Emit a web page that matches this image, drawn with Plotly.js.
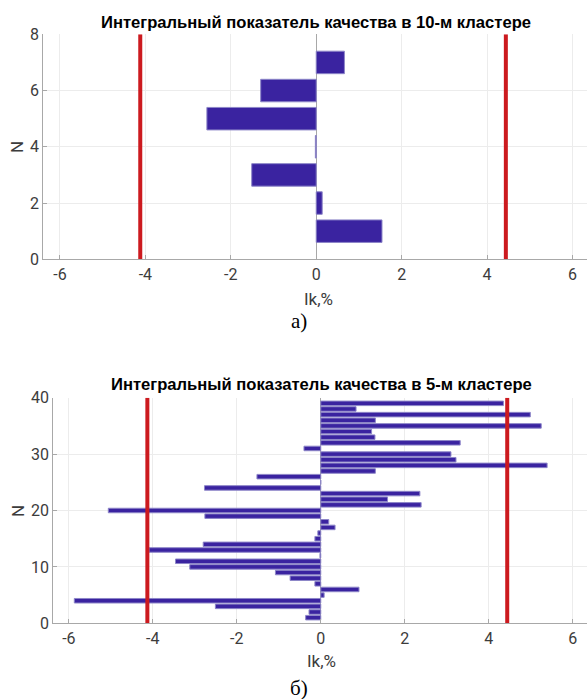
<!DOCTYPE html>
<html><head><meta charset="utf-8">
<script src="https://cdn.plot.ly/plotly-3.0.1.min.js"></script>
<style>html,body{margin:0;padding:0;background:#fff}#chart{width:587px;height:699px}</style>
</head><body><div id="chart"></div>
<script>
// ---- data: cluster 10 ----
const n10 = [1, 2, 3, 4, 5, 6, 7];
const ik10 = [1.54, 0.14, -1.51, -0.02, -2.56, -1.30, 0.66];
const lim10 = [-4.12, 4.44];
const title10 = 'Интегральный показатель качества в 10-м кластере';
// ---- data: cluster 5 ----
const n5 = [1,2,3,4,5,6,7,8,9,10,11,12,13,14,15,16,17,18,19,20,21,22,23,24,25,26,27,28,29,30,31,32,33,34,35,36,37,38,39];
const ik5 = [-0.36, -0.28, -2.51, -5.87, 0.08, 0.91, -0.14, -0.73, -1.08, -3.12,
             -3.46, -0.02, -4.09, -2.80, -0.14, -0.07, 0.34, 0.19, -2.76, -5.06,
             2.39, 1.59, 2.36, -2.77, 0.00, -1.52, 1.30, 5.39, 3.22, 3.10,
             -0.40, 3.32, 1.29, 1.21, 5.25, 1.30, 4.99, 0.84, 4.35];
const lim5 = [-4.13, 4.44];
const title5 = 'Интегральный показатель качества в 5-м кластере';
const xTitle = 'Ik,%';
const yTitle = 'N';
const xTicks = [-6, -4, -2, 0, 2, 4, 6];
const yTicks10 = [0, 2, 4, 6, 8];
const yTicks5 = [0, 10, 20, 30, 40];
const cap10 = 'а)';
const cap5 = 'б)';

const W = 587, H = 699;
const barColor = '#3a23a0', barEdge = '#8d86c8', redColor = '#cc1a1f';

function bars(x, y, xa, ya) {
  return {type: 'bar', orientation: 'h', x: x, y: y, xaxis: xa, yaxis: ya, width: 0.8,
    marker: {color: barColor, line: {color: barEdge, width: 1}}, hoverinfo: 'x+y', showlegend: false};
}
function limLines(lims, ymax, xa, ya) {
  return lims.map(v => ({type: 'scatter', mode: 'lines', x: [v, v], y: [0, ymax], xaxis: xa, yaxis: ya,
    line: {color: redColor, width: 4}, showlegend: false, hoverinfo: 'x'}));
}

const data = [
  bars(ik10, n10, 'x', 'y'),
  ...limLines(lim10, 8, 'x', 'y'),
  bars(ik5, n5, 'x2', 'y2'),
  ...limLines(lim5, 40, 'x2', 'y2')
];

const tickFont = {family: 'Roboto, Liberation Sans, Arial, sans-serif', size: 16, color: '#3c3c3c'};
function xax(domain, range, anchor) {
  return {domain: domain, range: range, anchor: anchor, tickvals: xTicks, ticktext: xTicks.map(String),
    showgrid: true, gridcolor: '#ececec', zeroline: true, zerolinecolor: '#a8a8a8', zerolinewidth: 1,
    showline: true, linecolor: '#a8a8a8', linewidth: 1, ticks: 'inside', ticklen: 4, tickcolor: '#a8a8a8',
    tickfont: tickFont, fixedrange: true};
}
function yax(domain, range, ticks, anchor) {
  return {domain: domain, range: range, anchor: anchor, tickvals: ticks, ticktext: ticks.map(String),
    showgrid: true, gridcolor: '#ececec', zeroline: false,
    showline: true, linecolor: '#a8a8a8', linewidth: 1, ticks: 'inside', ticklen: 4, tickcolor: '#a8a8a8',
    tickfont: tickFont, fixedrange: true};
}

const px = v => v / W, py = v => 1 - v / H;
const titleFont = {family: 'Liberation Sans, Arial, sans-serif', size: 16.6, color: '#000', weight: 'bold'};
const labFont = {family: 'Roboto, Liberation Sans, Arial, sans-serif', size: 17, color: '#3c3c3c'};
const capFont = {family: 'Liberation Serif, Times New Roman, serif', size: 21, color: '#000'};

function ann(text, x, y, font, extra) {
  return Object.assign({text: text, x: px(x), y: py(y), xref: 'paper', yref: 'paper',
    xanchor: 'center', yanchor: 'middle', showarrow: false, font: font}, extra || {});
}

const layout = {
  width: W, height: H, margin: {l: 0, r: 0, t: 0, b: 0},
  paper_bgcolor: '#fff', plot_bgcolor: '#fff', bargap: 0.2,
  xaxis: xax([px(43.3), 1], [-6.39, 6.34], 'y'),
  yaxis: yax([py(259.3), py(34.3)], [0, 8], yTicks10, 'x'),
  xaxis2: xax([px(53.3), 1], [-6.37, 6.34], 'y2'),
  yaxis2: yax([py(623.3), py(397.7)], [0, 40], yTicks5, 'x2'),
  annotations: [
    ann('<b>' + title10 + '</b>', 316, 22, titleFont),
    ann(yTitle, 17, 147, labFont, {textangle: -90}),
    ann(xTitle, 318, 299, labFont),
    ann(cap10, 299, 321, capFont),
    ann('<b>' + title5 + '</b>', 321, 385, titleFont),
    ann(yTitle, 18, 511, labFont, {textangle: -90}),
    ann(xTitle, 321, 661, labFont),
    ann(cap5, 299, 688, capFont)
  ]
};

Plotly.newPlot('chart', data, layout, {staticPlot: true, displayModeBar: false});
</script>
</body></html>
